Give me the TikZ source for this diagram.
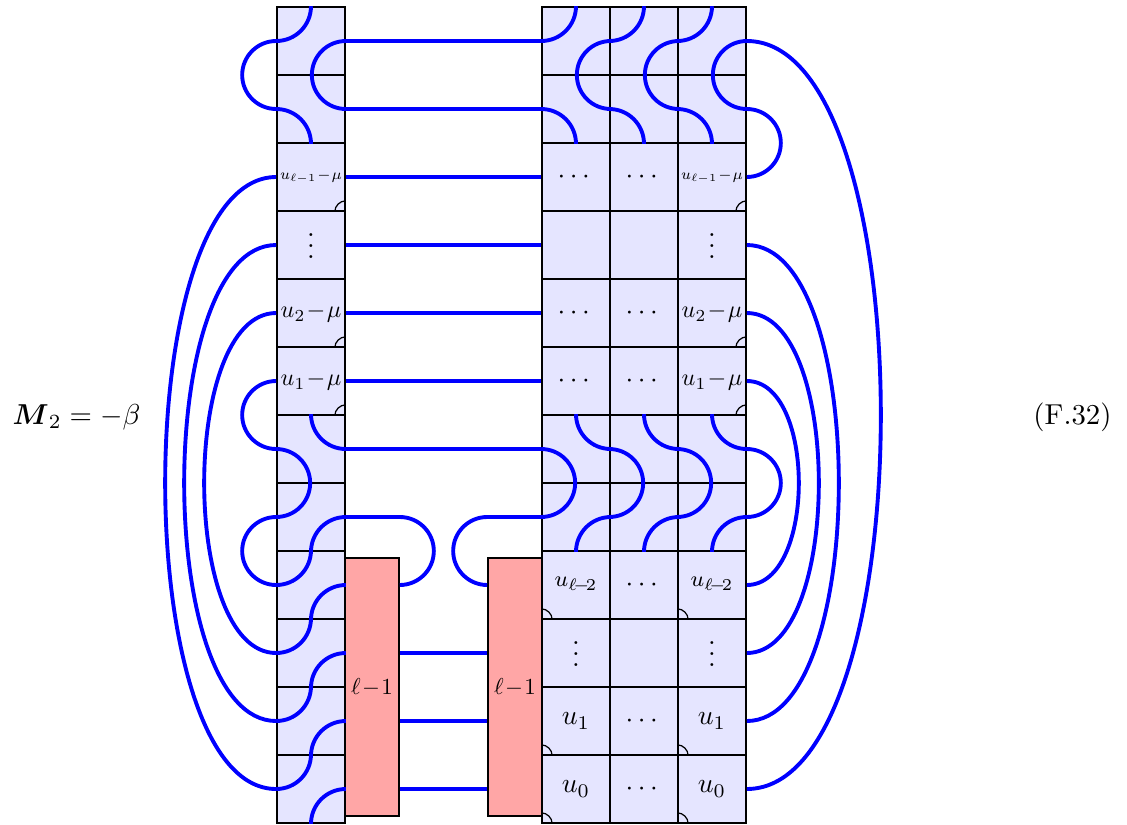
\documentclass[tikz,border=0pt]{standalone}
\usepackage{amsmath}
\usepackage{amssymb}
\def\pxu{0.361pt}
\tikzset{
  x=\pxu, y=-\pxu,
  tile/.style={draw=black,fill=blue!10,line width=0.6pt,minimum width=68*\pxu,minimum height=68*\pxu,inner sep=0pt},
  redbox/.style={draw=black,fill=red!35,line width=0.6pt,minimum width=54*\pxu,minimum height=258*\pxu,inner sep=0pt},
  wire/.style={draw=blue,line width=1.4pt},
  corner/.style={draw=black,line width=0.45pt},
  bl/.style={out=180,in=180,distance={(#1)*4/3*\pxu}},
  br/.style={out=0,in=0,distance={(#1)*4/3*\pxu}},
  semil/.style={to path={(\tikztostart) arc[start angle=90,end angle=270,radius=12.27pt]}},
  semir/.style={to path={(\tikztostart) arc[start angle=90,end angle=-90,radius=12.27pt]}},
  lbl/.style={inner sep=0pt}
}
\newcommand{\tile}[4]{\node[tile] (#1#3) at (#2,{68*#3-27}) {#4};}
\newcommand{\ulm}{\scalebox{0.77}{\scriptsize$u_{\ell-1}\!-\!\mu$}}
\newcommand{\utwo}{\footnotesize$u_{\ell\!-\!2}$}
\newcommand{\utm}[1]{\raisebox{-0.5pt}{\scalebox{0.87}{$u_{#1}\!-\!\mu$}}}
\newcommand{\lmo}{\scalebox{0.83}{$\ell\!-\!1$}}
\newcommand{\vd}{\raisebox{5.5pt}{$\vdots$}}
\newcommand{\cd}{\raisebox{-1.4pt}{$\cdots$}}
\begin{document}
\begin{tikzpicture}
\useasboundingbox (0,0) rectangle (1127,824);
% left column
\tile{L}{311}{1}{} \tile{L}{311}{2}{}
\tile{L}{311}{3}{\ulm}
\tile{L}{311}{4}{\vd}
\tile{L}{311}{5}{\utm{2}}
\tile{L}{311}{6}{\utm{1}}
\foreach \r in {7,...,12}{\tile{L}{311}{\r}{}}
% right block
\foreach \c/\x in {A/576,B/644,C/712}{
  \foreach \r in {1,2,7,8}{\tile{\c}{\x}{\r}{}}
}
\tile{A}{576}{3}{\cd} \tile{B}{644}{3}{\cd} \tile{C}{712}{3}{\ulm}
\tile{A}{576}{4}{} \tile{B}{644}{4}{} \tile{C}{712}{4}{\vd}
\tile{A}{576}{5}{\cd} \tile{B}{644}{5}{\cd} \tile{C}{712}{5}{\utm{2}}
\tile{A}{576}{6}{\cd} \tile{B}{644}{6}{\cd} \tile{C}{712}{6}{\utm{1}}
\tile{A}{576}{9}{\utwo} \tile{B}{644}{9}{\cd} \tile{C}{712}{9}{\utwo}
\tile{A}{576}{10}{\vd} \tile{B}{644}{10}{} \tile{C}{712}{10}{\vd}
\tile{A}{576}{11}{$u_1$} \tile{B}{644}{11}{\cd} \tile{C}{712}{11}{$u_1$}
\tile{A}{576}{12}{$u_0$} \tile{B}{644}{12}{\cd} \tile{C}{712}{12}{$u_0$}
% red boxes
\node[redbox] (R1) at (372,687) {\lmo};
\node[redbox] (R2) at (515,687) {\lmo};
% corner marks
\foreach \n in {L3,L5,L6,C3,C5,C6}{
  \draw[corner] ([xshift=-3.97pt]\n.south east) arc[start angle=180,end angle=90,radius=3.97pt];
}
\foreach \n in {A9,A11,A12,C9,C11,C12}{
  \draw[corner] ([xshift=3.97pt]\n.south west) arc[start angle=0,end angle=90,radius=3.97pt];
}
% outer labels
\node[lbl] (lhs) at (76.5,417) {\scalebox{1.04}{$\boldsymbol{M}_2=-\beta$}};
\node[lbl] (eqn) at (1072.5,417) {\scalebox{1.04}{(F.32)}};
% left column wires
\draw[wire] (L1.north) to[out=-90,in=0] (L1.west);
\draw[wire] (L1.west) to[semil] (L2.west);
\draw[wire] (L2.west) to[out=0,in=90] (L2.south);
\draw[wire] (L1.east) to[semil] (L2.east);
\draw[wire] (L6.west) to[semil] (L7.west);
\draw[wire] (L7.west) to[semir] (L8.west);
\draw[wire] (L8.west) to[semil] (L9.west);
\draw[wire] (L9.west) to[out=0,in=-90] (L9.north);
\draw[wire] (L8.south) to[out=90,in=180] (L8.east);
\draw[wire] (L7.north) to[out=-90,in=180] (L7.east);
\draw[wire] (L9.south) to[out=90,in=180] (L9.east);
\draw[wire] (L10.west) to[out=0,in=-90] (L10.north);
\draw[wire] (L10.south) to[out=90,in=180] (L10.east);
\draw[wire] (L11.west) to[out=0,in=-90] (L11.north);
\draw[wire] (L11.south) to[out=90,in=180] (L11.east);
\draw[wire] (L12.west) to[out=0,in=-90] (L12.north);
\draw[wire] (L12.south) to[out=90,in=180] (L12.east);
% long left arcs
\draw[wire] (L3.west) to[bl=111] (L12.west);
\draw[wire] (L4.west) to[bl=92] (L11.west);
\draw[wire] (L5.west) to[bl=72] (L10.west);
% straight wires
\foreach \r in {1,...,7}{
  \draw[wire] (L\r.east) -- (A\r.west);
}
% bridge between the two halves over the red boxes
\coordinate (k1) at (R1.east |- L8.east);
\coordinate (k2) at (R2.west |- L8.east);
\draw[wire] (L8.east) -- (k1);
\draw[wire] (k1) to[semir] (R1.east |- L9.east);
\draw[wire] (k2) to[semil] (R2.west |- L9.east);
\draw[wire] (k2) -- (A8.west);
\foreach \r in {10,11,12}{
  \draw[wire] (R1.east |- L\r.east) -- (R2.west |- L\r.east);
}
% right block wires
\foreach \c in {A,B,C}{
  \draw[wire] (\c1.north) to[out=-90,in=0] (\c1.west);
  \draw[wire] (\c1.east) to[semil] (\c2.east);
  \draw[wire] (\c2.west) to[out=0,in=90] (\c2.south);
  \draw[wire] (\c7.north) to[out=-90,in=180] (\c7.east);
  \draw[wire] (\c7.west) to[semir] (\c8.west);
  \draw[wire] (\c8.south) to[out=90,in=180] (\c8.east);
}
\draw[wire] (C2.east) to[semir] (C3.east);
\draw[wire] (C7.east) to[semir] (C8.east);
% long right arcs
\draw[wire] (C1.east) to[br=134] (C12.east);
\draw[wire] (C4.east) to[br=92] (C11.east);
\draw[wire] (C5.east) to[br=72] (C10.east);
\draw[wire] (C6.east) to[br=52] (C9.east);
\end{tikzpicture}
\end{document}
